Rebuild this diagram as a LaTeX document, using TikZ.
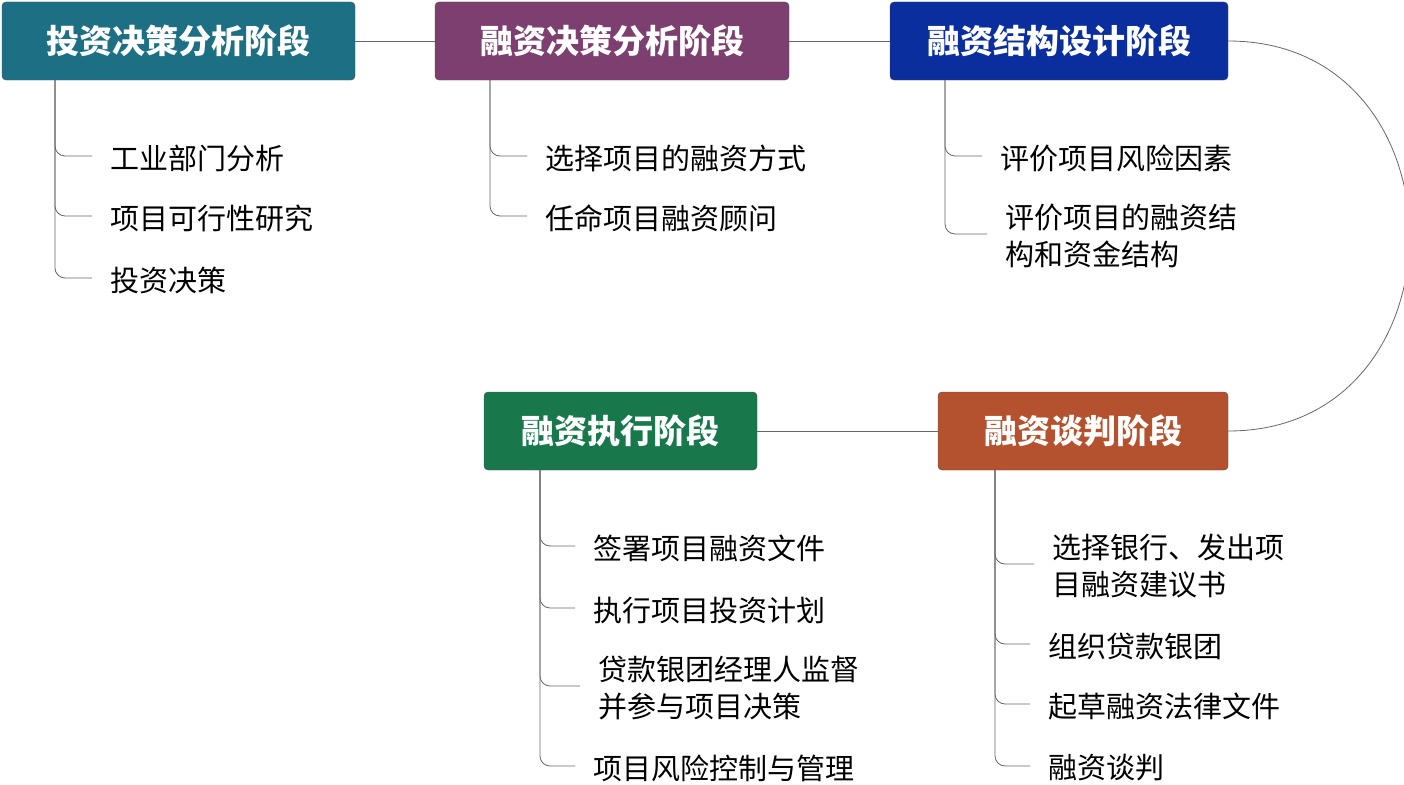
\documentclass[tikz,border=0pt]{standalone}
\usepackage{fontspec}
\setmainfont{Noto Sans CJK SC}
\usepackage{tikz}
\definecolor{StageA}{HTML}{1D6F84}
\definecolor{StageB}{HTML}{7D3F6F}
\definecolor{StageC}{HTML}{0A2E9E}
\definecolor{StageD}{HTML}{18774B}
\definecolor{StageE}{HTML}{B4512E}
\tikzset{stage box/.style={draw=black!70, rounded corners=4pt, inner sep=0pt, minimum height=78pt, text=white, font=\fontsize{33}{38}\selectfont\bfseries}}
\tikzset{step text/.style={anchor=west, inner sep=0pt, align=left, font=\fontsize{29}{37}\selectfont}}
\tikzset{branch/.style={draw=black!60, line width=0.8pt, rounded corners=10pt}}

\begin{document}
\begin{tikzpicture}[x=1pt,y=-1pt]
\useasboundingbox (0,0) rectangle (1404,784);

\node[stage box, fill=StageA, minimum width=353pt] (s1) at (178.5,41) {投资决策分析阶段};
\node[stage box, fill=StageB, minimum width=354pt] (s2) at (612,41) {融资决策分析阶段};
\node[stage box, fill=StageC, minimum width=338pt] (s3) at (1059,41) {融资结构设计阶段};
\node[stage box, fill=StageD, minimum width=273pt] (s4) at (620.5,431) {融资执行阶段};
\node[stage box, fill=StageE, minimum width=290pt] (s5) at (1083,431) {融资谈判阶段};

\draw[branch] (s1) -- (s2);
\draw[branch] (s2) -- (s3);
\draw[branch] (s4) -- (s5);
\draw[branch] (s3.east) .. controls (1470,41) and (1470,431) .. (s5.east);

\node[step text] (a1) at (110,158) {工业部门分析};
\node[step text] (a2) at (110,218) {项目可行性研究};
\node[step text] (a3) at (110,280) {投资决策};

\node[step text] (b1) at (545,158) {选择项目的融资方式};
\node[step text] (b2) at (545,218) {任命项目融资顾问};

\node[step text] (c1) at (1000,158) {评价项目风险因素};
\node[step text] (c2) at (1005,236) {评价项目的融资结\\构和资金结构};

\node[step text] (d1) at (593,548) {签署项目融资文件};
\node[step text] (d2) at (593,610) {执行项目投资计划};
\node[step text] (d3) at (598,688) {贷款银团经理人监督\\并参与项目决策};
\node[step text] (d4) at (593,768) {项目风险控制与管理};

\node[step text] (e1) at (1052,566) {选择银行、发出项\\目融资建议书};
\node[step text] (e2) at (1048,646) {组织贷款银团};
\node[step text] (e3) at (1048,706) {起草融资法律文件};
\node[step text] (e4) at (1048,768) {融资谈判};

\coordinate (ra) at (55,80);
\coordinate (rb) at (490,80);
\coordinate (rc) at (945,80);
\coordinate (rd) at (540,470);
\coordinate (re) at (995,470);

\foreach \i in {a1,a2,a3}
  \draw[branch] (ra) |- ([xshift=-18pt,yshift=2pt]\i.west);
\foreach \i in {b1,b2}
  \draw[branch] (rb) |- ([xshift=-18pt,yshift=2pt]\i.west);
\foreach \i in {c1,c2}
  \draw[branch] (rc) |- ([xshift=-18pt,yshift=2pt]\i.west);
\foreach \i in {d1,d2,d3,d4}
  \draw[branch] (rd) |- ([xshift=-18pt,yshift=2pt]\i.west);
\foreach \i in {e1,e2,e3,e4}
  \draw[branch] (re) |- ([xshift=-18pt,yshift=2pt]\i.west);

\end{tikzpicture}
\end{document}
